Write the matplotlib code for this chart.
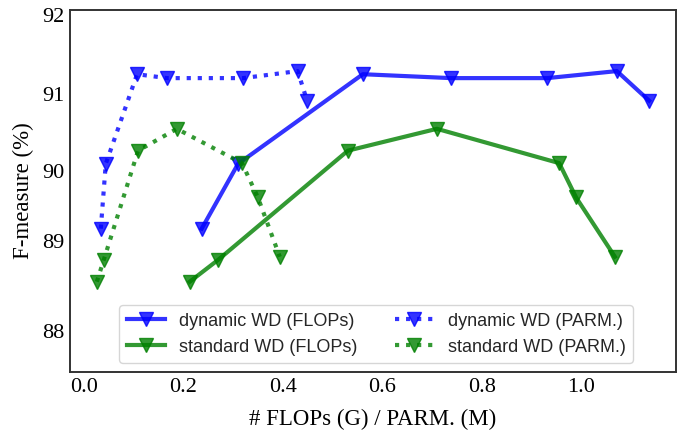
from matplotlib import pyplot as plt

# model results (F-measure %), same models measured by FLOPs (G) and params (M)
dyn_f = [89.26, 90.09, 91.24, 91.19, 91.19, 91.28, 90.90]
std_f = [88.58, 88.86, 90.26, 90.54, 90.10, 89.66, 88.90]

dyn_flops = [0.237, 0.310, 0.561, 0.738, 0.932, 1.072, 1.137]
std_flops = [0.213, 0.270, 0.531, 0.710, 0.956, 0.990, 1.068]
dyn_parm = [0.034, 0.044, 0.107, 0.167, 0.320, 0.430, 0.449]
std_parm = [0.026, 0.040, 0.109, 0.187, 0.318, 0.350, 0.394]

ytick_pos = [87.942, 89.096, 89.994, 90.981, 92.0]
ytick_lab = ['88', '89', '90', '91', '92']
xtick_pos = [0.0, 0.2, 0.4, 0.6, 0.8, 1.0]

fig = plt.figure(figsize=(6.88, 4.32), dpi=100)
ax = fig.add_subplot(111)
fig.subplots_adjust(left=0.1017, right=0.9826, top=0.977, bottom=0.139)

kw = dict(linewidth=3, marker='v', markersize=9.5, alpha=0.8)
ax.plot(dyn_flops, dyn_f, 'b', linestyle='-', label='dynamic WD (FLOPs)', **kw)
ax.plot(std_flops, std_f, 'g', linestyle='-', label='standard WD (FLOPs)', **kw)
ax.plot(dyn_parm, dyn_f, 'b', linestyle=':', label='dynamic WD (PARM.)', **kw)
ax.plot(std_parm, std_f, 'g', linestyle=':', label='standard WD (PARM.)', **kw)

ax.set_xlim(-0.028, 1.191)
ax.set_ylim(87.423, 92.064)
ax.set_xticks(xtick_pos)
ax.set_xticklabels(['%.1f' % v for v in xtick_pos], family='Liberation Serif', fontsize=16)
ax.set_yticks(ytick_pos)
ax.set_yticklabels(ytick_lab, family='Liberation Serif', fontsize=16)
ax.tick_params(length=0, pad=4)

for s in ax.spines.values():
    s.set_color('0.2')
    s.set_linewidth(1.4)

ax.set_xlabel('# FLOPs (G) / PARM. (M)', family='Liberation Serif', fontsize=16.5, labelpad=9)
ax.set_ylabel('F-measure (%)', family='Liberation Serif', fontsize=16.5, labelpad=6)

leg = ax.legend(loc='lower center', ncol=2, handlelength=2.1,
                columnspacing=2.1, bbox_to_anchor=(0.505, 0.0),
                prop={'family': 'Liberation Sans', 'size': 13})
for t in leg.get_texts():
    t.set_color('0.15')

fig.savefig('out.png', dpi=100)
